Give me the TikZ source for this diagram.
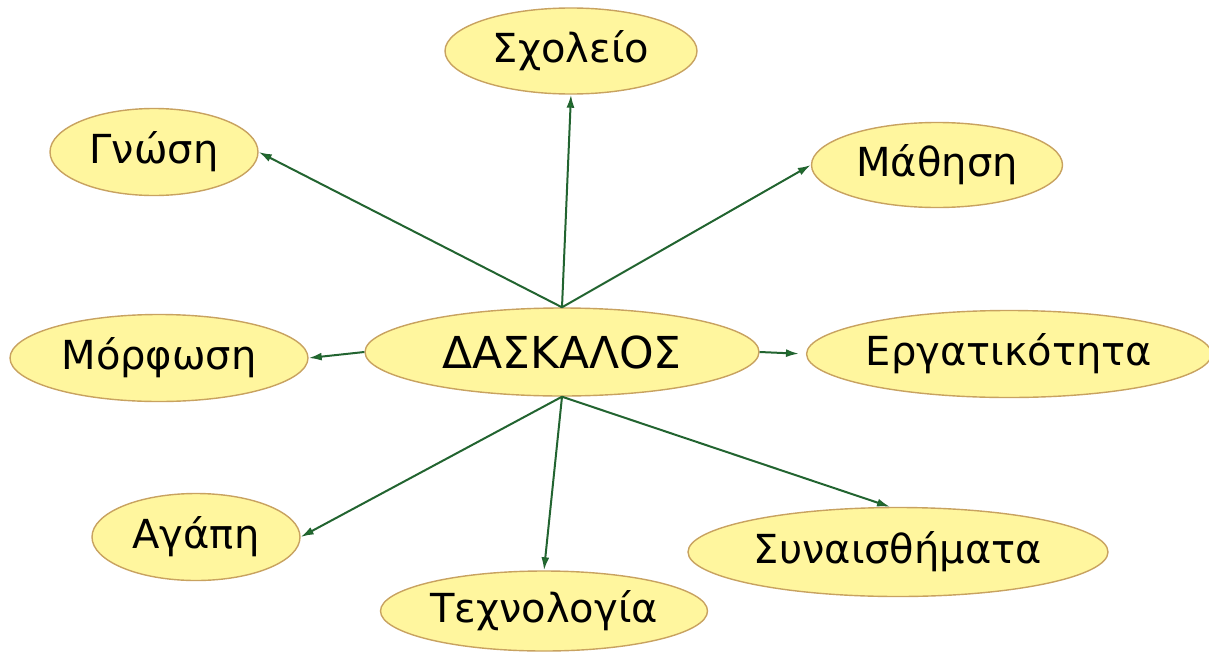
\documentclass[tikz,border=0pt]{standalone}
\usepackage{fontspec}
\setmainfont{DejaVu Sans}
\usetikzlibrary{shapes.geometric,arrows.meta}

\definecolor{bubblefill}{RGB}{255,246,158}
\definecolor{bubbleedge}{RGB}{200,162,96}
\definecolor{linkgreen}{RGB}{34,100,48}

\tikzset{
  bubble/.style={ellipse, draw=bubbleedge, fill=bubblefill, line width=0.7pt,
    inner sep=0pt, font=\fontsize{20}{24}\selectfont},
  link/.style={draw=linkgreen, line width=1pt,
    -{Latex[length=6.5pt,width=4pt,fill=linkgreen!75!green]}}
}

\begin{document}
\begin{tikzpicture}[x=0.5pt,y=-0.5pt]

    % page frame
    \useasboundingbox (0,0) rectangle (1209,653);

    % centre
    \node[bubble, minimum width=197pt, minimum height=44pt,
      font=\fontsize{22}{26}\selectfont] (daskalos) at (562,352) {ΔΑΣΚΑΛΟΣ};

    % the ideas round it
    \node[bubble, minimum width=126pt, minimum height=43pt] (scholeio) at (571,51) {Σχολείο};
    \node[bubble, minimum width=104pt, minimum height=43.5pt] (gnosi) at (154,152) {Γνώση};
    \node[bubble, minimum width=125.5pt, minimum height=42.5pt] (mathisi) at (937,165) {Μάθηση};
    \node[bubble, minimum width=149pt, minimum height=43.5pt] (morfosi) at (159,358) {Μόρφωση};
    \node[bubble, minimum width=197pt, minimum height=43.5pt] (ergatikotita) at (1009,354) {Εργατικότητα};
    \node[bubble, minimum width=104pt, minimum height=43.5pt] (agapi) at (196,537) {Αγάπη};
    \node[bubble, minimum width=210pt, minimum height=44.5pt] (synaisthimata) at (898,552) {Συναισθήματα};
    \node[bubble, minimum width=163.5pt, minimum height=40pt] (technologia) at (544,611) {Τεχνολογία};

    % links upwards
    \draw[link] (daskalos.north) -- (scholeio.south);
    \draw[link] (daskalos.north) -- (gnosi.east);
    \draw[link] (daskalos.north) -- (mathisi.west);

    % links sideways
    \draw[link] (daskalos.west) -- (morfosi.east);
    \draw[link, shorten >=3.5pt] (daskalos.east) -- (ergatikotita.west);

    % links downwards
    \draw[link] (daskalos.south) -- (agapi.east);
    \draw[link] (daskalos.south) -- (technologia.north);
    \draw[link] (daskalos.south) -- (synaisthimata.100);

\end{tikzpicture}
\end{document}
